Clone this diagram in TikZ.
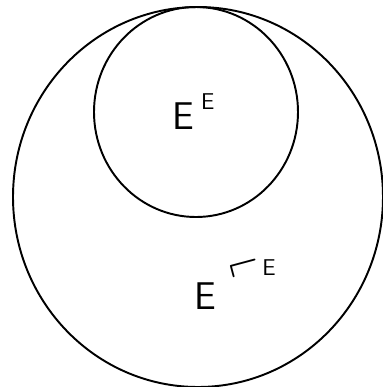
\documentclass[tikz,border=0pt]{standalone}
\begin{document}
\begin{tikzpicture}[x=0.02cm,y=-0.02cm,
  ring/.style={draw=black,line width=1.1pt},
  lab/.style={inner sep=0pt,anchor=base west,font=\sffamily\fontsize{22}{26}\selectfont}]
\useasboundingbox (0,0) rectangle (383,387);
\draw[ring] (198,197) ellipse [x radius=185, y radius=190];
\draw[ring] (196,112) ellipse [x radius=102, y radius=105];
\node[lab] (inner) at (172,129) {E\hspace{4pt}\raisebox{11pt}{\fontsize{13}{15}\selectfont E}};
\node[lab] (outer) at (194,309) {E\hspace{6pt}\raisebox{15pt}{\rotatebox{15}{\scalebox{-1.3}[1.3]{$\neg$}}\fontsize{13}{15}\selectfont\raisebox{4pt}{E}}};
\end{tikzpicture}
\end{document}
